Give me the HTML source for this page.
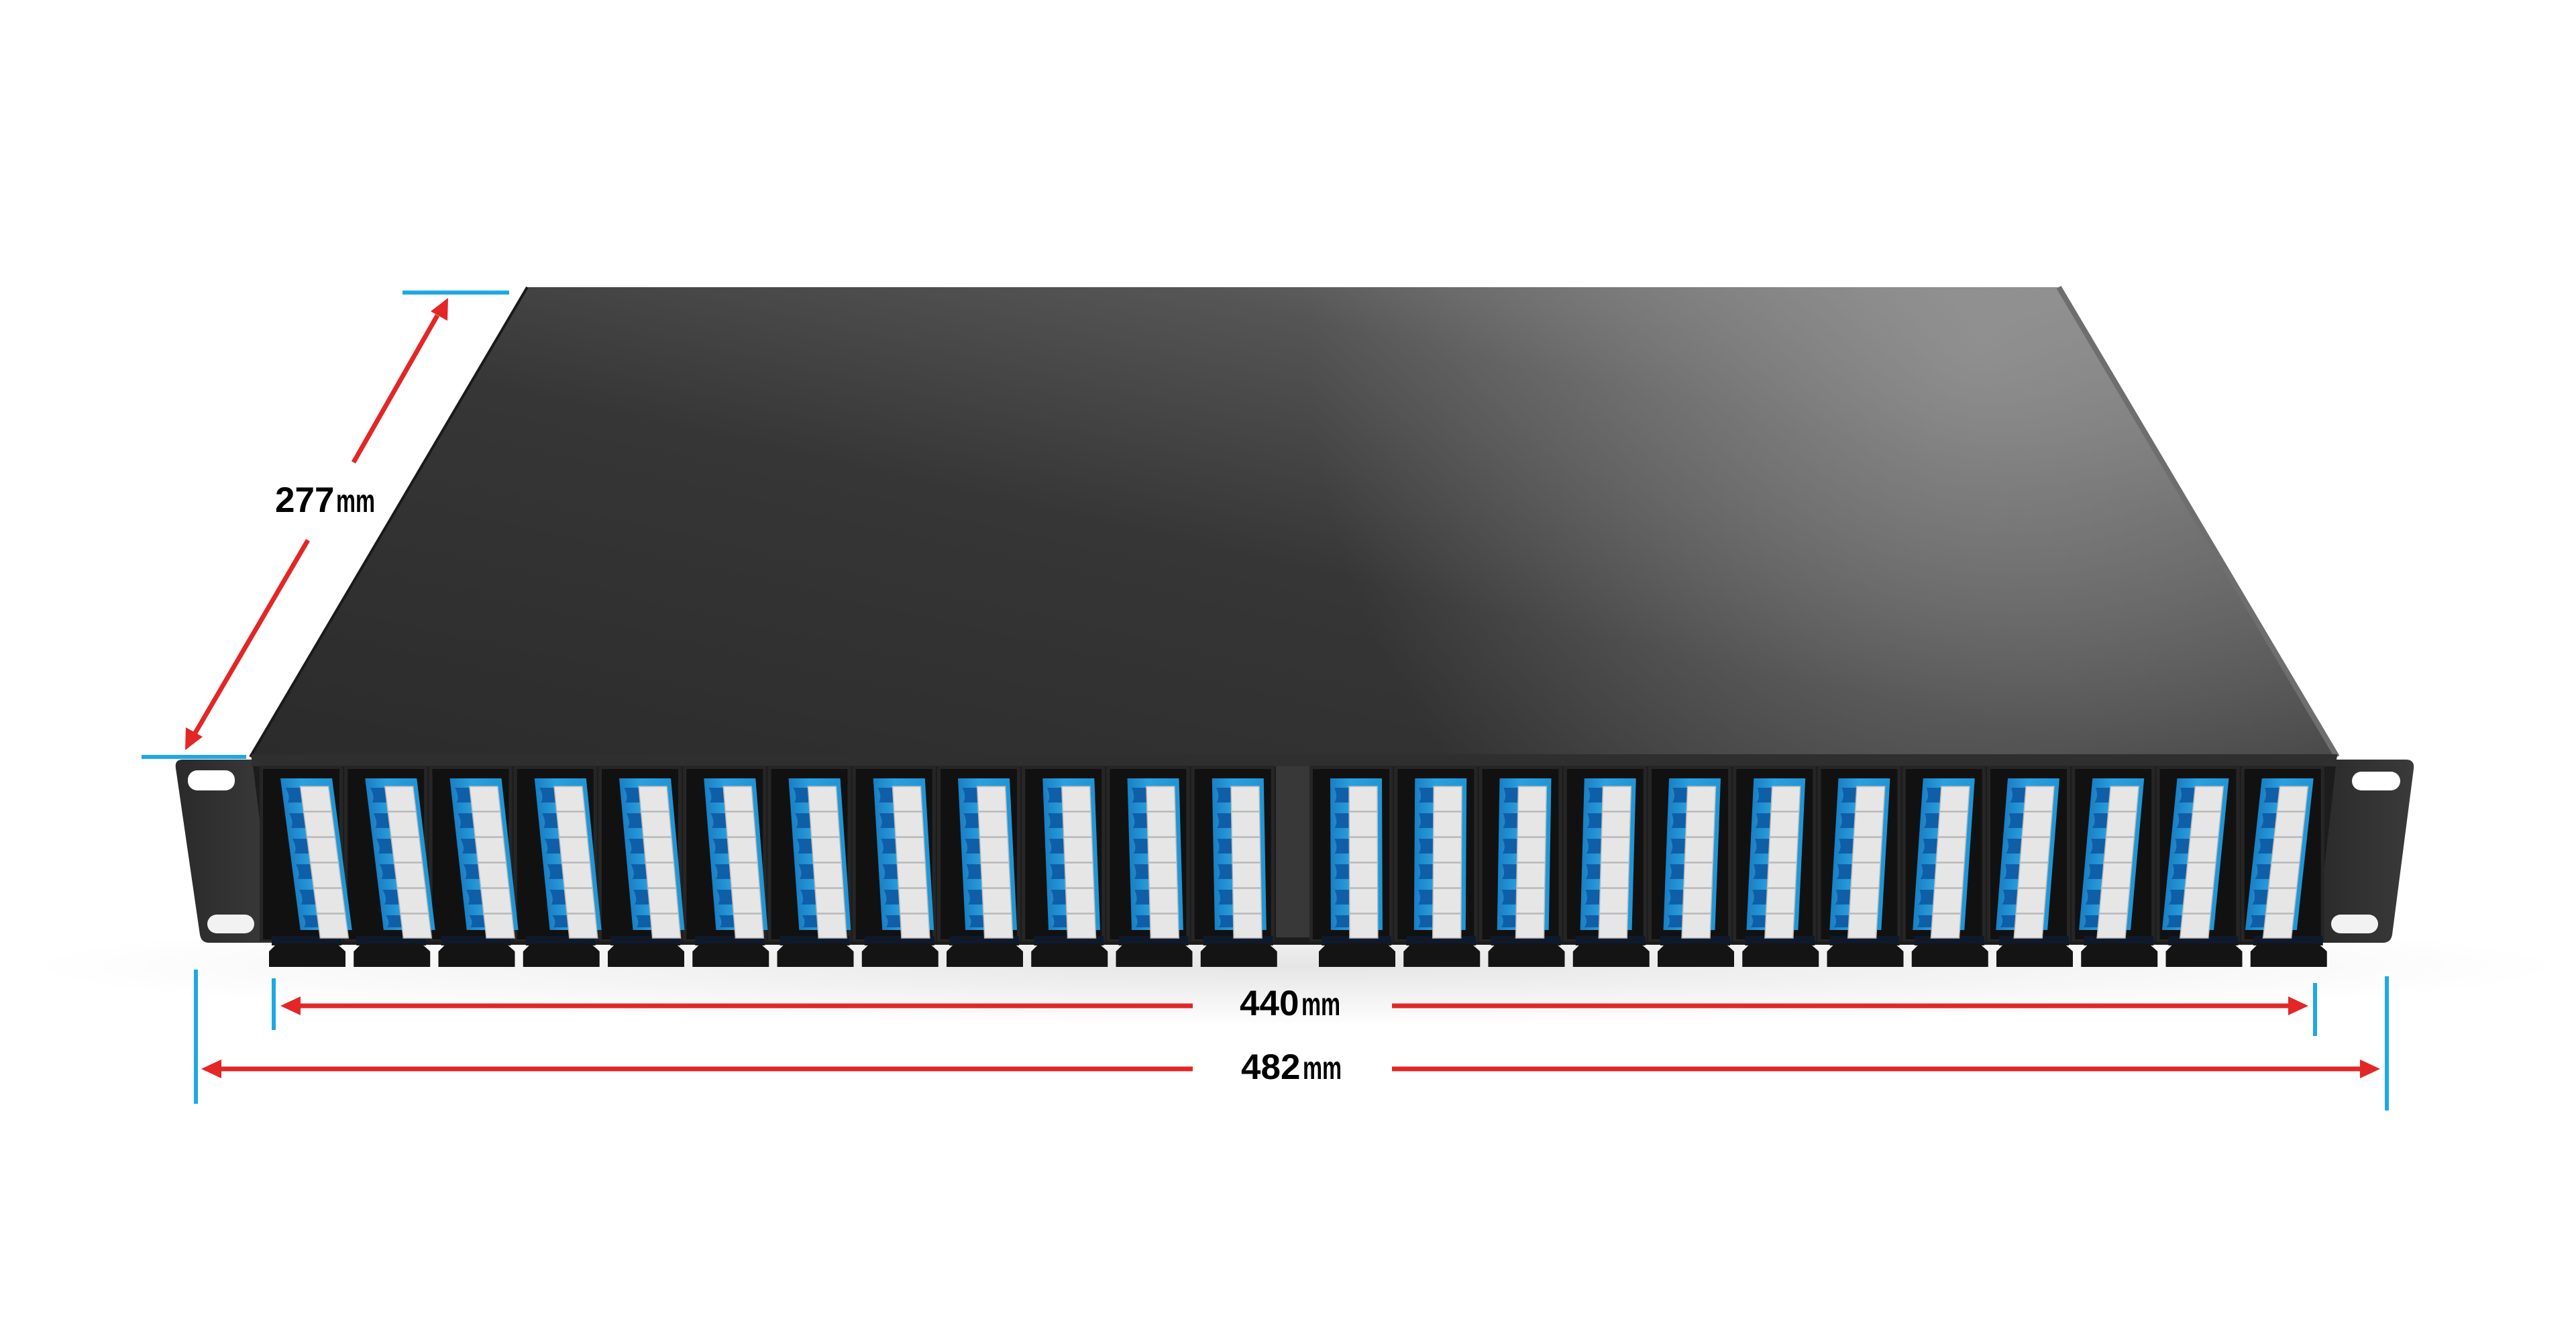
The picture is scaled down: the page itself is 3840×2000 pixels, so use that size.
<!DOCTYPE html>
<html><head><meta charset="utf-8"><style>
html,body{margin:0;padding:0;background:#fff;}
svg{display:block;}
text{font-family:"Liberation Sans",Arial,sans-serif;font-weight:bold;fill:#000;}
</style></head><body>
<svg width="3840" height="2000" viewBox="0 0 3840 2000" xmlns="http://www.w3.org/2000/svg">
<defs>
<linearGradient id="top" x1="0" y1="1" x2="1" y2="0">
<stop offset="0" stop-color="#2b2b2b"/><stop offset="0.45" stop-color="#363636"/>
<stop offset="0.72" stop-color="#555"/><stop offset="1" stop-color="#8e8e8e"/>
</linearGradient>
<radialGradient id="hl" cx="2950" cy="520" r="1000" gradientUnits="userSpaceOnUse">
<stop offset="0" stop-color="#9a9a9a" stop-opacity="0.75"/><stop offset="1" stop-color="#9a9a9a" stop-opacity="0"/>
</radialGradient>
<linearGradient id="ear" x1="0" y1="0" x2="1" y2="0">
<stop offset="0" stop-color="#2a2a2a"/><stop offset="1" stop-color="#3a3a3a"/>
</linearGradient>
<linearGradient id="blu" x1="0" y1="0" x2="1" y2="0">
<stop offset="0" stop-color="#1a7fc4"/><stop offset="0.4" stop-color="#2aa0e0"/><stop offset="1" stop-color="#1f95d6"/>
</linearGradient>
<radialGradient id="shd" cx="0.5" cy="0.5" r="0.5">
<stop offset="0" stop-color="#000" stop-opacity="0.10"/><stop offset="1" stop-color="#000" stop-opacity="0"/>
</radialGradient>
<g id="bay">
<rect x="0" y="1141" width="124" height="262" fill="#262626"/>
<rect x="5" y="1146" width="114" height="254" fill="#111"/>
<rect x="18" y="1395" width="104" height="14" fill="#0e1a2c"/>
<path d="M14 1441 L14 1418 Q20 1412 26 1406 L114 1406 Q122 1412 128 1418 L128 1441 Z" fill="#141414"/>
</g>
<g id="blue">
<rect x="0" y="0" width="77" height="226" fill="url(#blu)"/>
<g fill="#0f5ea8">
<path d="M6 14 h22 v22 h-22 q6 -8 0 -22z"/><path d="M6 52 h22 v22 h-22 q6 -8 0 -22z"/>
<path d="M6 90 h22 v22 h-22 q6 -8 0 -22z"/><path d="M6 128 h22 v22 h-22 q6 -8 0 -22z"/>
<path d="M6 166 h22 v22 h-22 q6 -8 0 -22z"/><path d="M6 204 h22 v18 h-22 q6 -8 0 -18z"/>
</g>
<g fill="#e6e6e6" stroke="#b8b8b8" stroke-width="1.5">
<rect x="28" y="12" width="42" height="37"/><rect x="28" y="50" width="42" height="37"/>
<rect x="28" y="88" width="42" height="37"/><rect x="28" y="126" width="42" height="37"/>
<rect x="28" y="164" width="42" height="37"/><rect x="28" y="202" width="42" height="36"/>
</g>
</g>
</defs>

<ellipse cx="1930" cy="1440" rx="1900" ry="90" fill="url(#shd)"/>

<!-- top panel -->
<polygon points="786,428 3069,428 3484,1128 373,1128" fill="url(#top)"/>
<polygon points="786,428 3069,428 3484,1128 373,1128" fill="url(#hl)"/>
<polyline points="3069,428 3484,1128" stroke="#6e6e6e" stroke-width="8" fill="none"/>
<polyline points="786,428 373,1128" stroke="#1a1a1a" stroke-width="4" fill="none"/>

<!-- ears -->
<path d="M272,1132 L392,1132 L412,1405 L312,1405 Q300,1405 298,1393 L262,1145 Q260,1132 272,1132Z" fill="url(#ear)"/>
<rect x="280" y="1148" width="70" height="30" rx="14" fill="#fff"/>
<rect x="309" y="1363" width="70" height="28" rx="14" fill="#f2f2f2"/>
<path d="M3474,1132 L3586,1132 Q3600,1132 3598,1146 L3566,1393 Q3564,1405 3552,1405 L3448,1405 Z" fill="url(#ear)"/>
<rect x="3506" y="1150" width="72" height="28" rx="14" fill="#fff"/>
<rect x="3475" y="1363" width="70" height="28" rx="14" fill="#f2f2f2"/>

<!-- front face -->
<polygon points="375,1124 3484,1124 3452,1408 410,1408" fill="#1c1c1c"/>
<rect x="375" y="1124" width="3108" height="18" fill="#2f2f2f"/>
<rect x="1902" y="1142" width="50" height="255" fill="#383838"/>

<!-- modules -->
<use href="#bay" x="387"/><use href="#bay" x="513.25"/><use href="#bay" x="639.5"/><use href="#bay" x="765.75"/>
<use href="#bay" x="892"/><use href="#bay" x="1018.25"/><use href="#bay" x="1144.5"/><use href="#bay" x="1270.75"/>
<use href="#bay" x="1397"/><use href="#bay" x="1523.25"/><use href="#bay" x="1649.5"/><use href="#bay" x="1775.75"/>
<use href="#bay" x="1952"/><use href="#bay" x="2078.25"/><use href="#bay" x="2204.5"/><use href="#bay" x="2330.75"/>
<use href="#bay" x="2457"/><use href="#bay" x="2583.25"/><use href="#bay" x="2709.5"/><use href="#bay" x="2835.75"/>
<use href="#bay" x="2962"/><use href="#bay" x="3088.25"/><use href="#bay" x="3214.5"/><use href="#bay" x="3340.75"/>

<use href="#blue" transform="translate(418,1160) skewX(7.5)"/>
<use href="#blue" transform="translate(544.25,1160) skewX(6.95)"/>
<use href="#blue" transform="translate(670.5,1160) skewX(6.36)"/>
<use href="#blue" transform="translate(796.75,1160) skewX(5.77)"/>
<use href="#blue" transform="translate(923,1160) skewX(5.18)"/>
<use href="#blue" transform="translate(1049.25,1160) skewX(4.59)"/>
<use href="#blue" transform="translate(1175.5,1160) skewX(4.0)"/>
<use href="#blue" transform="translate(1301.75,1160) skewX(3.41)"/>
<use href="#blue" transform="translate(1428,1160) skewX(2.81)"/>
<use href="#blue" transform="translate(1554.25,1160) skewX(2.22)"/>
<use href="#blue" transform="translate(1680.5,1160) skewX(1.63)"/>
<use href="#blue" transform="translate(1806.75,1160) skewX(1.04)"/>
<use href="#blue" transform="translate(1983,1160) skewX(0.22)"/>
<use href="#blue" transform="translate(2109.25,1160) skewX(-0.37)"/>
<use href="#blue" transform="translate(2235.5,1160) skewX(-0.96)"/>
<use href="#blue" transform="translate(2361.75,1160) skewX(-1.56)"/>
<use href="#blue" transform="translate(2488,1160) skewX(-2.15)"/>
<use href="#blue" transform="translate(2614.25,1160) skewX(-2.74)"/>
<use href="#blue" transform="translate(2740.5,1160) skewX(-3.33)"/>
<use href="#blue" transform="translate(2866.75,1160) skewX(-3.92)"/>
<use href="#blue" transform="translate(2993,1160) skewX(-4.51)"/>
<use href="#blue" transform="translate(3119.25,1160) skewX(-5.1)"/>
<use href="#blue" transform="translate(3245.5,1160) skewX(-5.69)"/>
<use href="#blue" transform="translate(3371.75,1160) skewX(-6.28)"/>

<!-- blue ticks -->
<g stroke="#1ea8e4" stroke-width="6">
<line x1="600" y1="436" x2="759" y2="436"/>
<line x1="211" y1="1128" x2="367" y2="1128"/>
<line x1="292" y1="1445" x2="292" y2="1645"/>
<line x1="408" y1="1458" x2="408" y2="1535"/>
<line x1="3451" y1="1465" x2="3451" y2="1544"/>
<line x1="3558" y1="1455" x2="3558" y2="1655"/>
</g>

<!-- red dimension lines -->
<g stroke="#e32626" stroke-width="7">
<line x1="440" y1="1499" x2="1778" y2="1499"/>
<line x1="2075" y1="1499" x2="3420" y2="1499"/>
<line x1="325" y1="1593" x2="1778" y2="1593"/>
<line x1="2075" y1="1593" x2="3525" y2="1593"/>
<line x1="652" y1="470" x2="527" y2="689"/>
<line x1="459" y1="805" x2="290" y2="1094"/>
</g>
<g fill="#e32626">
<polygon points="418,1499 448,1485 448,1513"/>
<polygon points="3441,1499 3411,1485 3411,1513"/>
<polygon points="300,1593 330,1579 330,1607"/>
<polygon points="3548,1593 3518,1579 3518,1607"/>
<polygon points="668,444 667,478 642,464"/>
<polygon points="276,1118 277,1084 302,1098"/>
</g>

<!-- labels -->
<text x="1848" y="1513" font-size="53">440</text>
<text transform="translate(1940,1513) scale(0.68,1)" font-size="48">mm</text>
<text x="1850" y="1608" font-size="53">482</text>
<text transform="translate(1942,1608) scale(0.68,1)" font-size="48">mm</text>
<text x="410" y="763" font-size="53">277</text>
<text transform="translate(501,763) scale(0.68,1)" font-size="48">mm</text>
</svg>
</body></html>
